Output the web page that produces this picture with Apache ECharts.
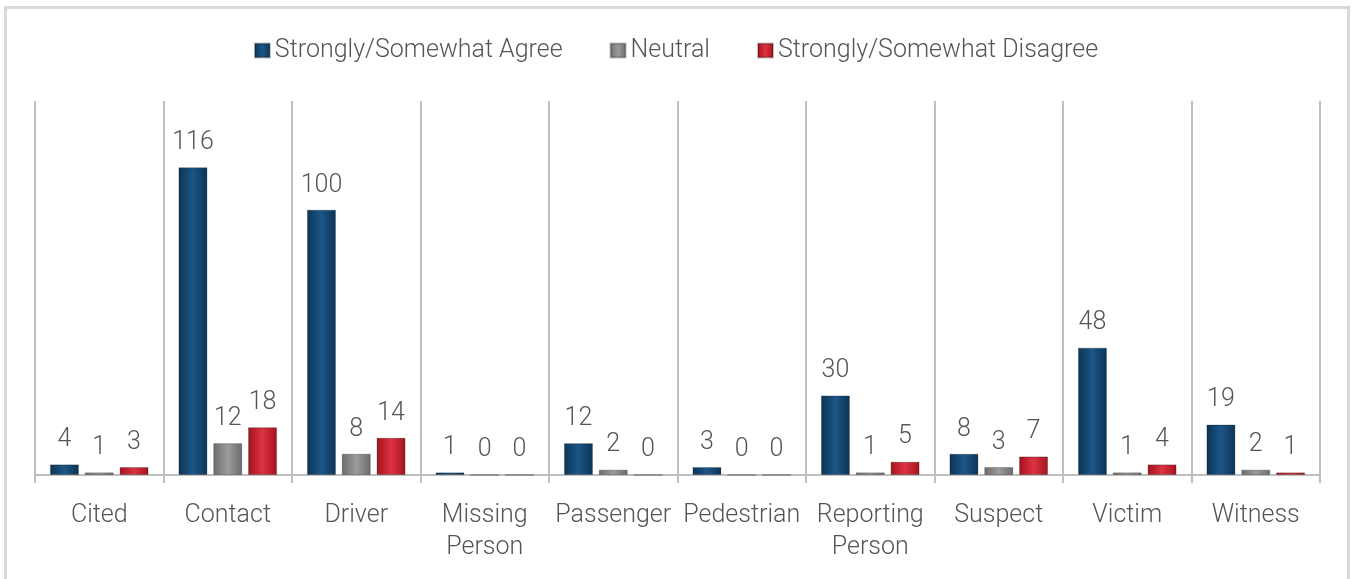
<!DOCTYPE html>
<html>
<head>
<meta charset="utf-8">
<script src="https://cdn.jsdelivr.net/npm/echarts@6/dist/echarts.min.js"></script>
<style>
html,body{margin:0;padding:0;background:#fff;}
#c{width:1352px;height:579px;}
</style>
</head>
<body>
<div id="c"></div>
<script>
const categories = ['Cited','Contact','Driver','Missing\nPerson','Passenger','Pedestrian','Reporting\nPerson','Suspect','Victim','Witness'];
const agree = [4,116,100,1,12,3,30,8,48,19];
const neutral = [1,12,8,0,2,0,1,3,1,2];
const disagree = [3,18,14,0,0,0,5,7,4,1];
const seriesNames = ['Strongly/Somewhat Agree','Neutral','Strongly/Somewhat Disagree'];

const FONT = '"Roboto", "Liberation Sans", sans-serif';
const TXT = '#555555';
const FW = 300;

function grad(edge, mid) {
  return new echarts.graphic.LinearGradient(0,0,1,0,[
    {offset:0,color:edge},{offset:0.5,color:mid},{offset:1,color:edge}
  ]);
}
const colors = [
  grad('#0b3456','#1c5686'),
  grad('#6a6a6a','#9c9c9c'),
  grad('#a3121d','#dc3340')
];
const legendColors = ['#174d7d','#808080','#c4202c'];

function mk(name, data, i) {
  return {
    name: name,
    type: 'bar',
    data: data,
    barWidth: 29,
    barGap: '20%',
    itemStyle: {color: colors[i], borderColor: 'rgba(0,0,0,0.25)', borderWidth: 1},
    label: {show: true, position: 'top', distance: 12, fontFamily: FONT, fontWeight: FW, fontSize: 25, color: TXT}
  };
}

const chart = echarts.init(document.getElementById('c'));
chart.setOption({
  animation: false,
  color: legendColors,
  graphic: [{
    type: 'rect', silent: true,
    shape: {x: 5.5, y: 7.5, width: 1343, height: 620},
    style: {fill: 'none', stroke: '#d9d9d9', lineWidth: 3}
  }],
  legend: {
    top: 33, left: 'center',
    itemWidth: 15, itemHeight: 14, icon: 'rect', itemGap: 47,
    textStyle: {fontFamily: FONT, fontWeight: FW, fontSize: 25, color: TXT},
    data: seriesNames
  },
  grid: {left: 35, right: 32, top: 101, bottom: 104},
  xAxis: {
    type: 'category', data: categories,
    axisLine: {lineStyle: {color: '#bfbfbf', width: 2}},
    axisTick: {show: true, length: 8, lineStyle: {color: '#bfbfbf', width: 2}},
    splitLine: {show: true, interval: 0, lineStyle: {color: '#bfbfbf', width: 2}},
    axisLabel: {interval: 0, fontFamily: FONT, fontWeight: FW, fontSize: 25, color: TXT, margin: 25, lineHeight: 32}
  },
  yAxis: {type: 'value', min: 0, max: 141, show: false, splitLine: {show: false}},
  series: [mk(seriesNames[0], agree, 0), mk(seriesNames[1], neutral, 1), mk(seriesNames[2], disagree, 2)]
});
</script>
</body>
</html>
